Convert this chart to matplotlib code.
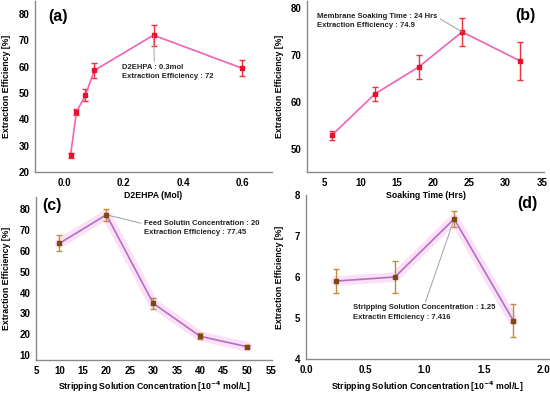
import matplotlib
matplotlib.use("Agg")
import matplotlib.pyplot as plt

plt.rcParams['font.family'] = ['Liberation Sans', 'DejaVu Sans']
plt.rcParams['font.weight'] = 'bold'

# Data
a_x = [0.02, 0.04, 0.07, 0.1, 0.3, 0.6]
a_y = [26.3, 42.9, 49.1, 58.6, 72.0, 59.4]
a_err = [0.8, 1.2, 2.3, 3.0, 4.0, 3.0]

b_x = [6, 12, 18, 24, 32]
b_y = [52.8, 61.7, 67.4, 74.9, 68.7]
b_err = [1.0, 1.5, 2.6, 3.0, 4.0]

c_x = [10, 20, 30, 40, 50]
c_y = [63.7, 77.45, 34.8, 19.0, 14.0]
c_err = [3.9, 3.0, 2.6, 1.5, 0.6]

d_x = [0.25, 0.75, 1.25, 1.75]
d_y = [5.9, 6.0, 7.416, 4.93]
d_err = [0.3, 0.4, 0.2, 0.4]

W, H = 550, 395
fig = plt.figure(figsize=(5.5, 3.95), dpi=100)

def px_axes(l, r, top, bot):
    ax = fig.add_axes([l / W, (H - bot) / H, (r - l) / W, (bot - top) / H])
    ax.patch.set_visible(False)
    return ax

def style(ax):
    for s in ['top', 'right']:
        ax.spines[s].set_visible(False)
    for s in ['left', 'bottom']:
        ax.spines[s].set_color('#8a8a8a')
        ax.spines[s].set_linewidth(1.0)
    ax.tick_params(length=0, labelsize=7, pad=4)
    for lab in ax.get_xticklabels() + ax.get_yticklabels():
        lab.set_fontweight('bold')

def labels(ax, xl, yl, l, r, top, bot, xlab_y, ylab_x):
    ax.set_xlabel(xl, fontsize=6.3, fontweight='bold')
    ax.set_ylabel(yl, fontsize=6.3, fontweight='bold')
    ax.xaxis.label.set_va('center')
    ax.yaxis.label.set_va('center')
    ax.yaxis.label.set_ha('center')
    ax.xaxis.set_label_coords(0.5, -(xlab_y - bot) / (bot - top))
    ax.yaxis.set_label_coords((ylab_x - l) / (r - l), 0.5)

def panel(ax, s, x, y):
    ax.text(x, y, s, transform=ax.transAxes, fontsize=11.5, fontweight='bold', va='center', ha='center')

ann_kw = dict(fontsize=5.5, fontweight='bold', color='#222222', linespacing=1.45)

# (a)
L, R, T, B = 35, 272, 1, 172
ax = px_axes(L, R, T, B)
ax.errorbar(a_x, a_y, yerr=a_err, color='#f060b8', lw=1.2, marker='s', ms=3.5,
            mfc='#e8102a', mec='#e8102a', ecolor='#ee3040', elinewidth=1, capsize=2)
ax.set_xlim(-0.1, 0.7)
ax.set_ylim(20, 85)
ax.set_xticks([0.0, 0.2, 0.4, 0.6])
ax.set_yticks([20, 30, 40, 50, 60, 70, 80])
style(ax)
labels(ax, 'D2EHPA (Mol)', 'Extraction Efficiency [%]', L, R, T, B, 195, 7)
panel(ax, '(a)', 0.097, 0.912)
ax.annotate('D2EHPA : 0.3mol\nExtraction Efficiency : 72', xy=(0.3, 72), xytext=(0.195, 61.0),
            va='top', ha='left', **ann_kw,
            arrowprops=dict(arrowstyle='-', color='#a0a0a0', lw=0.7, shrinkA=0, shrinkB=0,
                            relpos=(0.35, 1.0)))

# (b)
L, R, T, B = 307, 544, 1, 172
ax = px_axes(L, R, T, B)
ax.errorbar(b_x, b_y, yerr=b_err, color='#f060b8', lw=1.2, marker='s', ms=3.5,
            mfc='#e8102a', mec='#e8102a', ecolor='#ee3040', elinewidth=1, capsize=2)
ax.set_xlim(2.6, 35.3)
ax.set_ylim(45, 81.5)
ax.set_xticks([5, 10, 15, 20, 25, 30, 35])
ax.set_yticks([50, 60, 70, 80])
style(ax)
labels(ax, 'Soaking Time (Hrs)', 'Extraction Efficiency [%]', L, R, T, B, 195, 279)
panel(ax, '(b)', 0.92, 0.918)
ax.annotate('Membrane Soaking Time : 24 Hrs\nExtraction Efficiency : 74.9', xy=(24, 74.9), xytext=(4.0, 78.9),
            va='top', ha='left', **ann_kw,
            arrowprops=dict(arrowstyle='-', color='#a0a0a0', lw=0.7, shrinkA=0, shrinkB=0,
                            relpos=(1.0, 0.75)))

# (c)
L, R, T, B = 36, 272, 197, 360
ax = px_axes(L, R, T, B)
ax.plot(c_x, c_y, color='#fbe0f6', lw=7, solid_capstyle='round', zorder=1)
ax.errorbar(c_x, c_y, yerr=c_err, color='#b070c8', lw=1.2, marker='s', ms=3.5,
            mfc='#7a4a10', mec='#7a4a10', ecolor='#c08a40', elinewidth=1, capsize=2, zorder=3)
ax.set_xlim(5, 55.3)
ax.set_ylim(7.6, 86)
ax.set_xticks(list(range(5, 56, 5)))
ax.set_yticks([10, 20, 30, 40, 50, 60, 70, 80])
style(ax)
labels(ax, 'Stripping Solution Concentration [10$^{\\mathbf{-4}}$ mol/L]', 'Extraction Efficiency [%]',
       L, R, T, B, 387, 7)
panel(ax, '(c)', 0.068, 0.945)
ax.annotate('Feed Solutin Concentration : 20\nExtraction Efficiency : 77.45', xy=(20, 77.45), xytext=(28.0, 75.0),
            va='top', ha='left', **ann_kw,
            arrowprops=dict(arrowstyle='-', color='#a0a0a0', lw=0.7, shrinkA=0, shrinkB=0,
                            relpos=(0.0, 0.75)))

# (d)
L, R, T, B = 306, 549, 195, 359
ax = px_axes(L, R, T, B)
ax.plot(d_x, d_y, color='#fbe0f6', lw=7, solid_capstyle='round', zorder=1)
ax.errorbar(d_x, d_y, yerr=d_err, color='#b070c8', lw=1.2, marker='s', ms=3.5,
            mfc='#7a4a10', mec='#7a4a10', ecolor='#c08a40', elinewidth=1, capsize=2, zorder=3)
ax.set_xlim(0, 2.05)
ax.set_ylim(4, 8)
ax.set_xticks([0.0, 0.5, 1.0, 1.5, 2.0])
ax.set_yticks([4, 5, 6, 7, 8])
style(ax)
labels(ax, 'Stripping Solution Concentration [10$^{\\mathbf{-4}}$ mol/L]', 'Extraction Efficiency [%]',
       L, R, T, B, 387, 280)
panel(ax, '(d)', 0.91, 0.95)
ax.annotate('Stripping Solution Concentration : 1.25\nExtractin Efficiency : 7.416', xy=(1.25, 7.416), xytext=(0.40, 5.33),
            va='top', ha='left', **ann_kw,
            arrowprops=dict(arrowstyle='-', color='#a0a0a0', lw=0.7, shrinkA=0, shrinkB=0,
                            relpos=(0.5, 1.0)))

fig.savefig('out.png', dpi=100)
